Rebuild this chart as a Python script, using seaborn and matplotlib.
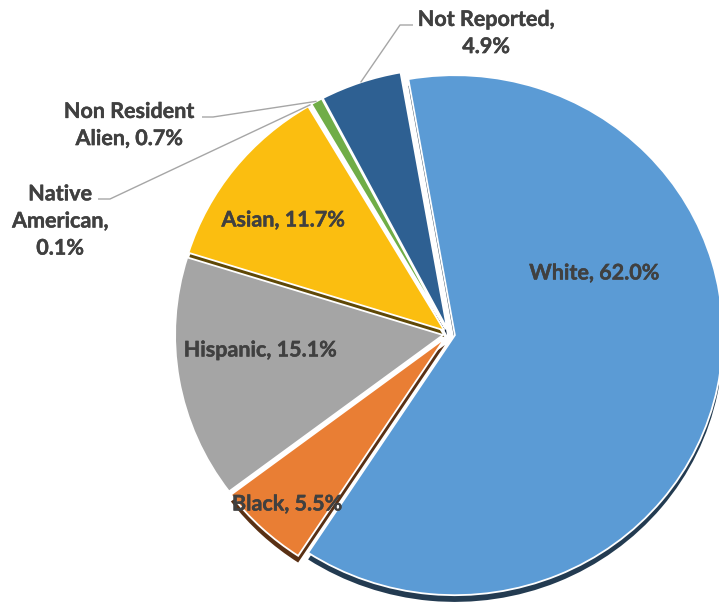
import numpy as np
import matplotlib
matplotlib.use("Agg")
import matplotlib.pyplot as plt
import matplotlib.patches as mpatches
import matplotlib.patheffects as pe
import seaborn as sns

# ---- data ----
categories = ["White", "Black", "Hispanic", "Asian", "Native American",
              "Non Resident Alien", "Not Reported"]
values = [62.0, 5.5, 15.1, 11.7, 0.1, 0.7, 4.9]
label_templates = ["White, {v}%", "Black, {v}%", "Hispanic, {v}%", "Asian, {v}%",
                   "Native\nAmerican,\n{v}%", "Non Resident\nAlien, {v}%",
                   "Not Reported,\n{v}%"]
colors = ["#5B9BD5", "#E97E34", "#A5A5A5", "#FBBE10", "#264478", "#70AD47", "#2E6092"]
shadowed = ["White", "Black", "Asian", "Not Reported"]

sns.set_theme(style="white")
plt.rcParams['font.family'] = ['Lato', 'DejaVu Sans']

W, H = 719, 611
fig = plt.figure(figsize=(W / 100, H / 100), dpi=100)
ax = fig.add_axes([0, 0, 1, 1])

RH, RV = 268.0, 260.0
k = RH / RV


def P(xp, yp):
    return xp, (H - yp) * k


cx, cy = P(449, 334)
wedges, _ = ax.pie(values, colors=colors, startangle=100, counterclock=False,
                   explode=[6.0] * len(values), radius=RH, center=(cx, cy),
                   wedgeprops=dict(edgecolor="white", linewidth=1.3, zorder=2))
for w, cat in zip(wedges, categories):
    if cat in shadowed:
        sh = mpatches.Shadow(w, 0.0, -5.0, shade=0.62, alpha=1.0, linewidth=0,
                             zorder=1)
        ax.add_patch(sh)
ax.set_aspect("auto")
ax.set_xlim(0, W)
ax.set_ylim(0, H * k)
ax.axis("off")

txt_kw = dict(color="#404040", fontsize=15.5, fontweight="bold",
              ha="center", va="center", linespacing=1.36, zorder=5,
              path_effects=[pe.withStroke(linewidth=0.3, foreground="#404040")])

# inside labels
inside_pos = {"White": (594, 273), "Black": (287, 504), "Hispanic": (260, 350),
              "Asian": (283, 220)}
# outside labels with leader lines: text pos, elbow, end
outside = {"Not Reported": ((486, 33), (400, 25), (413, 25)),
           "Non Resident Alien": ((129, 125), (213, 117), (202, 117)),
           "Native American": ((60, 221), (110, 199), (98, 199))}

for i, cat in enumerate(categories):
    text = label_templates[i].format(v=f"{values[i]:.1f}")
    if cat in inside_pos:
        ax.text(*P(*inside_pos[cat]), text, **txt_kw)
    else:
        tpos, elbow, end = outside[cat]
        w = wedges[i]
        th = np.deg2rad((w.theta1 + w.theta2) / 2)
        ax_x = w.center[0] + w.r * np.cos(th)
        ax_y = w.center[1] + w.r * np.sin(th)
        ex, ey = P(*elbow)
        nx, ny = P(*end)
        ax.plot([ax_x, ex, nx], [ax_y, ey, ny], color="#A6A6A6", lw=1.0,
                solid_capstyle="butt", zorder=3)
        ax.text(*P(*tpos), text, **txt_kw)

fig.savefig("out.png", dpi=100, facecolor="white")
